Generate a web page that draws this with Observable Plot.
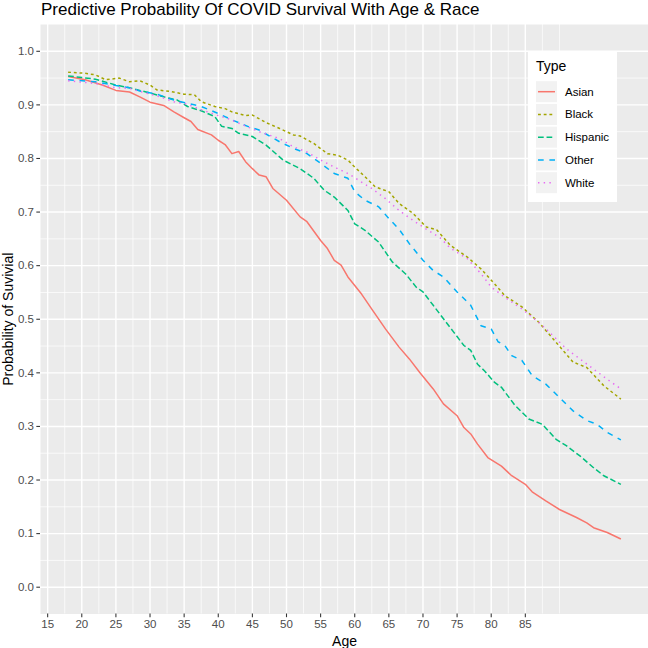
<!DOCTYPE html>
<html><head><meta charset="utf-8">
<script src="https://cdn.jsdelivr.net/npm/d3@7"></script>
<script src="https://cdn.jsdelivr.net/npm/@observablehq/plot@0.6"></script>
<style>
html,body{margin:0;padding:0;background:#fff;}
#wrap{position:relative;width:648px;height:648px;overflow:hidden;font-family:"Liberation Sans",Arial,Helvetica,sans-serif;}
#title{position:absolute;left:41px;top:1px;font-size:17px;line-height:17px;color:#000;white-space:nowrap;}
#chart{position:absolute;left:0;top:24px;}
#legend{position:absolute;left:0;top:0;pointer-events:none;}
</style></head><body>
<div id="wrap">
<div id="title">Predictive Probability Of COVID Survival With Age &amp; Race</div>
<div id="chart"></div>
<svg id="legend" width="648" height="648"></svg>
</div>
<script>
// ---- data ----
const seriesNames = ["Asian", "Black", "Hispanic", "Other", "White"];

const asianAge  = [18,20.5,23,25,27,28.5,30,32,33.5,35,36,37,39,40,41,42,43,44,45,46,47,48,50,52,53,55,56,57,58,59,61,62.5,64.5,66.5,68,69.5,71.5,73,75,76,77,78,79.5,81.5,83,85,86,88,90,92.5,94,95,97,99];
const asianProb = [.953,.947,.937,.927,.924,.915,.905,.899,.887,.876,.869,.854,.844,.834,.826,.809,.813,.794,.781,.769,.766,.744,.722,.691,.682,.647,.632,.610,.601,.579,.547,.519,.482,.448,.426,.401,.370,.342,.320,.298,.286,.267,.242,.226,.208,.192,.178,.161,.145,.130,.120,.111,.102,.090];

const blackAge  = [18,20.5,22,23.5,25.5,27,28.5,30,31,33,35,36.5,37.5,39.5,41,42,44,45,47,49,51,52,54,56,57.5,59,60,61.5,63,65,66.5,68.5,70.5,72,74,76.5,78.5,80.5,82,84.5,87,89.5,92,94,96.5,99];
const blackProb = [.961,.959,.956,.947,.950,.943,.945,.937,.928,.925,.920,.919,.906,.897,.893,.887,.880,.881,.867,.856,.844,.842,.828,.809,.806,.797,.784,.766,.747,.738,.716,.698,.672,.667,.638,.616,.594,.566,.544,.523,.494,.457,.420,.410,.376,.351];

const hispanicAge  = [18,22,25,27,30,32,34,35.5,37.5,39.5,40.5,42,43,45,47,49.5,52,54,55.5,57,59,60,61.5,63.5,65.5,67.5,69,70,71.5,73,74.5,76,77,78,79,80.5,81.5,83.5,85.5,87.5,89.5,91,93,95,96.5,99];
const hispanicProb = [.954,.948,.937,.932,.922,.915,.909,.897,.889,.878,.860,.856,.847,.841,.825,.797,.781,.763,.741,.728,.703,.678,.666,.644,.607,.584,.560,.551,.526,.501,.476,.451,.442,.416,.404,.382,.373,.339,.314,.304,.276,.264,.245,.223,.208,.192];

const otherAge  = [18,22,25,27,28.5,31,33.5,35.5,37.5,40,42,44.5,46,49,51,53,55,57,59,60,61.5,63.5,65,66.5,68,70,71.5,73,75,77,78.5,80,81,82,83,84.5,86,88,90,92,94,95.5,97,99];
const otherProb = [.947,.943,.936,.932,.926,.920,.909,.903,.897,.884,.872,.859,.853,.831,.819,.809,.791,.772,.763,.738,.722,.710,.688,.668,.641,.610,.591,.579,.551,.526,.488,.482,.458,.451,.432,.423,.395,.379,.354,.329,.311,.304,.289,.275];

const whiteAge  = [18,22,25,27,28.5,31,33.5,35.5,37.5,40,41.5,43,46,49,51,53,55,57,59,60.5,62.5,64.5,66.5,68.5,70.5,72.5,74,76.5,78.5,80,82,84.5,87,89,91,93,95,97,99];
const whiteProb = [.945,.940,.932,.931,.925,.917,.906,.901,.891,.880,.874,.866,.850,.837,.822,.812,.797,.784,.772,.760,.744,.725,.703,.685,.668,.652,.633,.613,.585,.560,.541,.519,.494,.470,.445,.426,.407,.388,.370];

const xTickLabels = [15,20,25,30,35,40,45,50,55,60,65,70,75,80,85];
const yTickLabels = [0.0,0.1,0.2,0.3,0.4,0.5,0.6,0.7,0.8,0.9,1.0];

// ---- styles ----
const colors = ["#F8766D", "#A3A500", "#00BF7D", "#00B0F6", "#E76BF3"];
const dashes = [null, "2.85,2.85", "5.7,2.85", "5.7,5.7", "1.42,4.27"];
const lw = 1.5;
const FONT = '"Liberation Sans", Arial, Helvetica, sans-serif';

const agesList = [asianAge, blackAge, hispanicAge, otherAge, whiteAge];
const probList = [asianProb, blackProb, hispanicProb, otherProb, whiteProb];
const series = seriesNames.map((name, i) => agesList[i].map((a, j) => ({type: name, age: a, prob: probList[i][j]})));

// ggplot-like expansion
const allAges = agesList.flat();
const xMin = d3.min(allAges), xMax = d3.max(allAges);
const xPad = 0.05 * (xMax - xMin);
const xDomain = [xMin - xPad, xMax + xPad];
const yDomain = [-0.05, 1.05];

// minor grid (midpoints, extended one step beyond breaks as ggplot does)
const xStep = xTickLabels[1] - xTickLabels[0];
const xMinor = [];
for (let v = xTickLabels[0] - xStep / 2; v <= xTickLabels[xTickLabels.length - 1] + xStep; v += xStep / 2) {
  if (!xTickLabels.includes(v) && v > xDomain[0] && v < xDomain[1]) xMinor.push(v);
}
const yMinor = [];
for (let i = 0; i < yTickLabels.length - 1; i++) yMinor.push((yTickLabels[i] + yTickLabels[i + 1]) / 2);

const marks = [
  Plot.frame({fill: "#EBEBEB", stroke: null}),
  Plot.ruleY(yMinor, {stroke: "white", strokeWidth: 0.71}),
  Plot.ruleX(xMinor, {stroke: "white", strokeWidth: 0.71}),
  Plot.ruleY(yTickLabels, {stroke: "white", strokeWidth: 1.42}),
  Plot.ruleX(xTickLabels, {stroke: "white", strokeWidth: 1.42}),
  ...series.map((s, i) => Plot.line(s, {
    x: "age", y: "prob", stroke: colors[i], strokeWidth: lw,
    strokeDasharray: dashes[i], strokeLinecap: "butt", strokeLinejoin: "round"
  })),
  Plot.axisX(xTickLabels, {tickSize: 3.67, tickPadding: 2.5, stroke: "#333333", fill: "#4D4D4D",
    strokeWidth: 1.07, fontSize: 11.5, label: null, tickFormat: d => String(d)}),
  Plot.axisY(yTickLabels, {tickSize: 3.67, tickPadding: 2.9, stroke: "#333333", fill: "#4D4D4D",
    strokeWidth: 1.07, fontSize: 11.5, label: null, tickFormat: d3.format(".1f")}),
  Plot.text(["Age"], {frameAnchor: "bottom", dy: 27.5, fontSize: 14, fill: "#000", lineAnchor: "middle", textAnchor: "middle"}),
  Plot.text(["Probability of Suvivial"], {frameAnchor: "left", dx: -32, rotate: -90, fontSize: 14, fill: "#000", lineAnchor: "middle", textAnchor: "middle"})
];

const chart = Plot.plot({
  width: 648,
  height: 624,
  marginLeft: 40,
  marginRight: 0,
  marginTop: 0,
  marginBottom: 34.5,
  style: {fontFamily: FONT, background: "white", overflow: "visible"},
  x: {domain: xDomain},
  y: {domain: yDomain},
  marks
});
document.getElementById("chart").appendChild(chart);

// ---- legend (inside panel, top-right) ----
const lg = d3.select("#legend");
const box = {x: 528, y: 52, w: 89, h: 150};
lg.append("rect").attr("x", box.x).attr("y", box.y).attr("width", box.w).attr("height", box.h).attr("fill", "white");
lg.append("text").attr("x", box.x + 8).attr("y", box.y + 18.5)
  .attr("font-family", FONT).attr("font-size", 14).attr("fill", "#000").text("Type");
const rowH = 22.75, row0 = 91.7;
seriesNames.forEach((name, i) => {
  const cy = row0 + i * rowH;
  lg.append("rect").attr("x", 536).attr("y", cy - 10.5).attr("width", 21).attr("height", 21).attr("fill", "#F2F2F2");
  lg.append("line").attr("x1", 538).attr("x2", 555).attr("y1", cy).attr("y2", cy)
    .attr("stroke", colors[i]).attr("stroke-width", lw).attr("stroke-dasharray", dashes[i]).attr("stroke-linecap", "butt");
  lg.append("text").attr("x", 565).attr("y", cy).attr("dy", "0.35em")
    .attr("font-family", FONT).attr("font-size", 11.5).attr("fill", "#000").text(name);
});
</script>
</body></html>
